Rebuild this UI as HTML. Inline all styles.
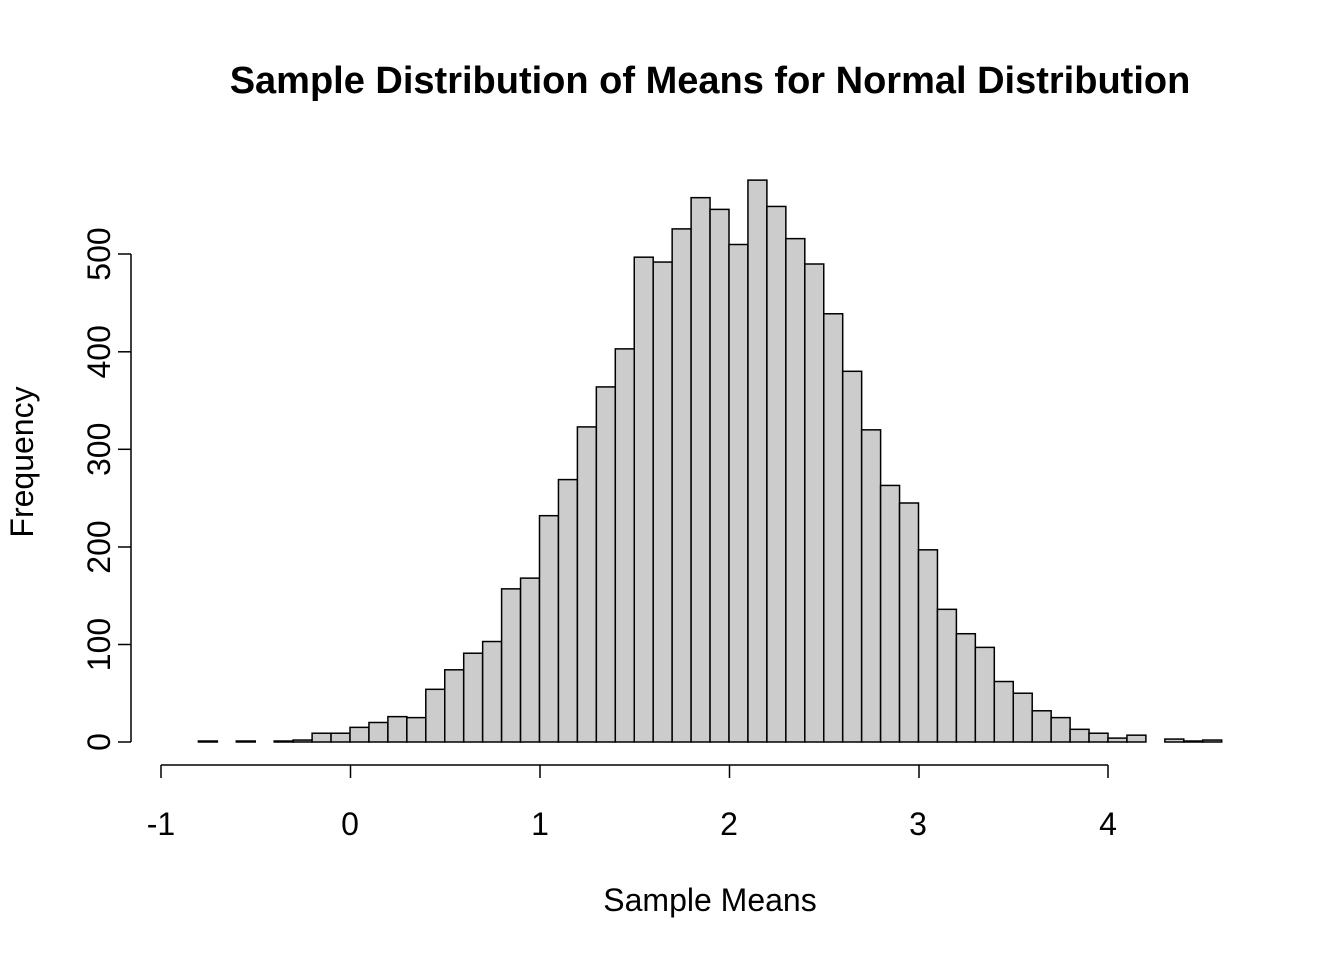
<!DOCTYPE html>
<html><head><meta charset="utf-8"><style>
html,body{margin:0;padding:0;background:#fff;}
text{font-family:"Liberation Sans",Arial,sans-serif;fill:#000;}
</style></head><body>
<svg id="s" width="1344" height="960" xmlns="http://www.w3.org/2000/svg">
<rect width="1344" height="960" fill="#fff"/>
<text x="710" y="93" font-size="38" font-weight="bold" text-anchor="middle">Sample Distribution of Means for Normal Distribution</text>
<g id="bars"></g>
<g stroke="#000" stroke-width="1.5" fill="none">
<line x1="131" y1="742" x2="131" y2="254"/>
<line x1="131" y1="742" x2="118" y2="742"/>
<line x1="131" y1="644.5" x2="118" y2="644.5"/>
<line x1="131" y1="547" x2="118" y2="547"/>
<line x1="131" y1="449.3" x2="118" y2="449.3"/>
<line x1="131" y1="351.8" x2="118" y2="351.8"/>
<line x1="131" y1="254" x2="118" y2="254"/>
<line x1="161" y1="765" x2="1108" y2="765"/>
<line x1="161" y1="765" x2="161" y2="778"/>
<line x1="350.5" y1="765" x2="350.5" y2="778"/>
<line x1="540" y1="765" x2="540" y2="778"/>
<line x1="729.5" y1="765" x2="729.5" y2="778"/>
<line x1="919" y1="765" x2="919" y2="778"/>
<line x1="1108" y1="765" x2="1108" y2="778"/>
</g>
<g font-size="32" text-anchor="middle">
<text x="161" y="835">-1</text>
<text x="350" y="835">0</text>
<text x="540" y="835">1</text>
<text x="729" y="835">2</text>
<text x="918" y="835">3</text>
<text x="1108" y="835">4</text>
<text x="710" y="911">Sample Means</text>
<text transform="translate(110,742) rotate(-90)">0</text>
<text transform="translate(110,644.5) rotate(-90)">100</text>
<text transform="translate(110,547) rotate(-90)">200</text>
<text transform="translate(110,449.3) rotate(-90)">300</text>
<text transform="translate(110,351.8) rotate(-90)">400</text>
<text transform="translate(110,254) rotate(-90)">500</text>
<text transform="translate(33,462) rotate(-90)">Frequency</text>
</g>
</svg>
<script>
var h=[1,0,1,0,1,2,9,9,15,20,26,25,54,74,91,103,157,168,232,269,323,364,403,497,492,526,558,546,510,576,549,516,490,439,380,320,263,245,197,136,111,97,62,50,32,25,13,9,4,7,0,3,1,2];
var g=document.getElementById('bars'),s='';
for(var i=0;i<h.length;i++){var v=-0.8+i*0.1;var x0=350+v*189.5,x1=350+(v+0.1)*189.5;var y=742-h[i]*0.9755;
s+='<rect x="'+x0.toFixed(2)+'" y="'+y.toFixed(2)+'" width="'+(x1-x0).toFixed(2)+'" height="'+(742-y).toFixed(2)+'" fill="#cccccc" stroke="#000" stroke-width="1.5"/>';}
g.innerHTML=s;
</script>
</body></html>
